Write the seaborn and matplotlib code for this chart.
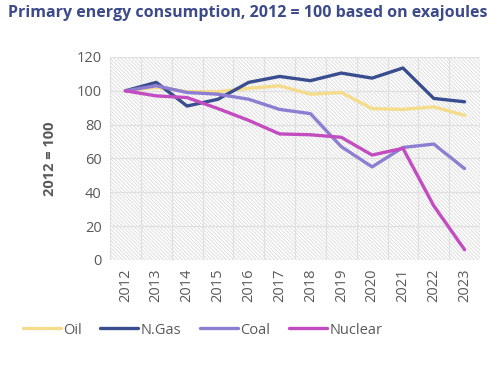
import matplotlib
matplotlib.use("Agg")
import matplotlib.pyplot as plt
import numpy as np
import pandas as pd
import seaborn as sns
from matplotlib.lines import Line2D
from matplotlib.patches import Rectangle

years = [str(y) for y in range(2012, 2024)]
oil = [100, 102, 99.5, 99.5, 101.5, 103, 98, 99, 89.5, 89, 90.5, 85.5]
ngas = [100, 105, 91, 95, 105, 108.5, 106, 110.5, 107.5, 113.5, 95.5, 93.5]
coal = [100, 103, 99, 98, 95, 89, 86.5, 67, 55, 66.5, 68.5, 54]
nuclear = [100, 97, 96, 89.5, 82.5, 74.5, 74, 72.5, 62, 66, 32, 6]

series_names = ["Oil", "N.Gas", "Coal", "Nuclear"]
colors = ["#F5DC8A", "#3A4E8F", "#8E7ED2", "#C24CC0"]

df = pd.DataFrame({
    "pos": list(range(len(years))) * 4,
    "value": oil + ngas + coal + nuclear,
    "fuel": np.repeat(series_names, len(years)),
})

sns.set_theme(style="white")
plt.rcParams["font.family"] = ["Open Sans", "DejaVu Sans"]
plt.rcParams["hatch.color"] = "#DEDEDE"
plt.rcParams["hatch.linewidth"] = 0.7

fig = plt.figure(figsize=(5, 3.75), dpi=100)
ax = fig.add_axes([0.22, 0.307, 0.74, 0.541])

# diagonal hatched plot area background
ax.add_patch(Rectangle((0, 0), 1, 1, transform=ax.transAxes, facecolor="white",
                       edgecolor="#DEDEDE", hatch="\\" * 9, linewidth=0, zorder=0))

sns.lineplot(data=df, x="pos", y="value", hue="fuel", hue_order=series_names,
             palette=colors, linewidth=2.4, legend=False, ax=ax, zorder=3)

ax.set_xlim(-0.5, len(years) - 0.5)
ax.set_ylim(0, 120)
ax.set_yticks(range(0, 121, 20))
ax.set_xticks(range(len(years)))
ax.set_xticklabels(years, rotation=90)
ax.set_xticks(np.arange(-0.5, len(years), 1), minor=True)
ax.grid(True, axis="y", color="#E0E0E0", linewidth=0.9, zorder=1)
ax.grid(True, axis="x", which="minor", color="#E0E0E0", linewidth=0.9, zorder=1)
ax.grid(False, axis="x", which="major")
ax.tick_params(axis="both", which="both", length=0, labelsize=10.5,
               labelcolor="#595959", pad=6)
for s in ax.spines.values():
    s.set_visible(False)
ax.set_xlabel("")
ax.set_ylabel("2012 = 100", fontsize=10.5, fontweight="bold", color="#595959",
              labelpad=14)

fig.text(0.016, 0.965, "Primary energy consumption, 2012 = 100 based on exajoules",
         fontsize=11.5, fontweight="bold", color="#3D4A8A", ha="left", va="center")

handles = [Line2D([0], [0], color=c, linewidth=2.4) for c in colors]
fig.legend(handles, series_names, loc="center", bbox_to_anchor=(0.405, 0.12),
           ncol=4, frameon=False, fontsize=10.5, handlelength=2.6,
           handletextpad=0.15, columnspacing=1.3, labelcolor="#595959")

fig.savefig("out.png", dpi=100)
